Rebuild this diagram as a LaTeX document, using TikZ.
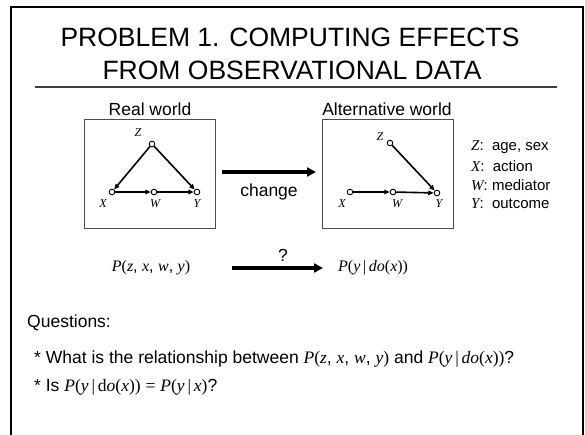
\documentclass[tikz,border=0pt]{standalone}
\usepackage{fontspec}
\setmainfont{Liberation Sans}
\newfontfamily\tms{Liberation Serif}
\usetikzlibrary{arrows.meta,positioning}
\newcommand{\vv}[1]{{\tms\itshape #1}}
\newcommand{\up}[1]{{\tms #1}}

\begin{document}
\begin{tikzpicture}[x=1pt,y=1pt,
    vtx/.style={circle, draw, fill=white, line width=0.9pt, inner sep=0pt, minimum size=5.6pt},
    edge/.style={line width=1.6pt, -{Triangle[length=5.5pt,width=4.5pt]}},
    bigarrow/.style={line width=3.5pt, -{Triangle[length=9pt,width=9pt]}},
    vlab/.style={font=\fontsize{12}{14}\selectfont\tms\itshape, inner sep=1pt},
    world/.style={draw=black!70, line width=0.8pt},
    txt/.style={font=\fontsize{17.5}{21}\selectfont, inner sep=0pt},
    leg/.style={font=\fontsize{15}{18}\selectfont, inner sep=0pt, anchor=west}]
    \useasboundingbox (0,0) rectangle (585,-434);

    % frame and title
    \draw[line width=2pt] (11,-440) -- (11,-7) -- (583,-7) -- (583,-440);
    \node[anchor=base, inner sep=0pt, font=\fontsize{26.5}{33}\selectfont] (title1) at (290,-46) {PROBLEM 1. COMPUTING EFFECTS};
    \node[anchor=base, inner sep=0pt, font=\fontsize{26.5}{33}\selectfont] (title2) at (292,-79) {FROM OBSERVATIONAL DATA};
    \draw[black!75, line width=1.2pt] (35,-87) -- (557,-87);

    % real world
    \begin{scope}
        \draw[world] (84,-119) rectangle (215,-228);
        \node[txt, anchor=base] (rw) at (150,-115) {Real world};
        \node[vtx] (z1) at (152,-144) {};
        \node[vtx] (x1) at (112,-192) {};
        \node[vtx] (w1) at (154,-192) {};
        \node[vtx] (y1) at (197,-192) {};
        \node[vlab] (lz1) at (138,-133) {Z};
        \node[vlab] (lx1) at (103,-204) {X};
        \node[vlab] (lw1) at (155,-204) {W};
        \node[vlab] (ly1) at (197,-204) {Y};
        \draw[edge] (z1) -- (x1);
        \draw[edge] (z1) -- (y1);
        \draw[edge] (x1) -- (w1);
        \draw[edge] (w1) -- (y1);
    \end{scope}

    % alternative world
    \begin{scope}[xshift=238pt]
        \draw[world] (84,-119) rectangle (215,-228);
        \node[txt, anchor=base] (aw) at (149,-115) {Alternative world};
        \node[vtx] (z2) at (152,-143) {};
        \node[vtx] (x2) at (112,-192) {};
        \node[vtx] (w2) at (155,-192) {};
        \node[vtx] (y2) at (199,-193) {};
        \node[vlab] (lz2) at (142,-137) {Z};
        \node[vlab] (lx2) at (104,-204) {X};
        \node[vlab] (lw2) at (159,-204) {W};
        \node[vlab] (ly2) at (201,-204) {Y};
        \draw[edge] (z2) -- (y2);
        \draw[edge] (x2) -- (w2);
        \draw[edge] (w2) -- (y2);
    \end{scope}

    % change
    \coordinate (c1) at (222,-172);
    \coordinate (c2) at (316,-172);
    \draw[bigarrow] (c1) -- (c2);
    \node[txt] (chg) at (269,-192) {change};

    % legend
    \node[leg] (lz) at (471,-147) {\vv{Z}:\ \ age, sex};
    \node[leg] (lx) at (471,-166) {\vv{X}:\ \ action};
    \node[leg] (lw) at (471,-185) {\vv{W}: mediator};
    \node[leg] (ly) at (471,-204) {\vv{Y}:\ \ outcome};

    % from joint to interventional
    \node[inner sep=0pt, font=\fontsize{16}{19}\selectfont] (pj) at (151,-268) {\vv{P}\up{(}\vv{z}, \vv{x}, \vv{w}, \vv{y}\up{)}};
    \node[inner sep=0pt, anchor=west, font=\fontsize{16}{19}\selectfont] (pd) at (338,-268) {\vv{P}\up{(}\vv{y}\,\up{|}\,\vv{do}\up{(}\vv{x}\up{))}};
    \coordinate (a1) at (232,-268);
    \coordinate (a2) at (323,-268);
    \draw[bigarrow] (a1) -- (a2);
    \node[txt] (qm) at (283,-255) {?};

    % questions
    \node[txt, anchor=west] (qs) at (27,-323) {Questions:};
    \node[txt, anchor=west] (q1) at (34,-359) {* What is the relationship between \vv{P}\up{(}\vv{z}, \vv{x}, \vv{w}, \vv{y}\up{)} and \vv{P}\up{(}\vv{y}\,\up{|}\,\vv{do}\up{(}\vv{x}\up{))}?};
    \node[txt, anchor=west] (q2) at (34,-387) {* Is \vv{P}\up{(}\vv{y}\,\up{|}\,\up{d}\vv{o}\up{(}\vv{x}\up{))} \up{=} \vv{P}\up{(}\vv{y}\,\up{|}\,\vv{x}\up{)}?};
\end{tikzpicture}
\end{document}
